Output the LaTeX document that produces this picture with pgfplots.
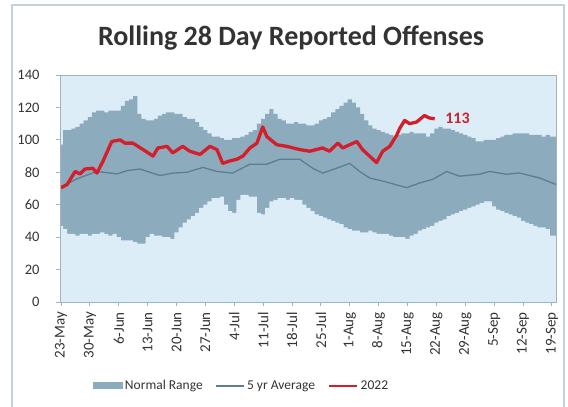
\documentclass[border=0pt]{standalone}
\usepackage{fontspec}
\setmainfont{Carlito}
\usepackage{pgfplots}
\pgfplotsset{compat=1.18}
\usepackage{pgfplotstable}
\definecolor{bgblue}{HTML}{DCEDF8}
\definecolor{band}{HTML}{8CABBD}
\definecolor{avg}{HTML}{5E7E8F}
\definecolor{red22}{HTML}{D21F2B}
\definecolor{framec}{HTML}{9FB3C0}
\definecolor{outerc}{HTML}{C3D2DC}
\definecolor{txt}{HTML}{333333}

\pgfplotstableread{
day lo hi
0 47 97
1 45 106
2 42 106
3 42 107
4 41 108
5 42 110
6 42 112
7 41 114
8 42 117
9 42 118
10 43 118
11 42 117
12 41 118
13 42 118
14 40 118
15 38 121
16 38 124
17 38 125
18 37 127
19 36 116
20 36 113
21 40 112
22 42 112
23 41 113
24 41 115
25 40 116
26 40 117
27 39 117
28 43 116
29 46 116
30 49 114
31 51 113
32 53 113
33 55 111
34 58 108
35 60 106
36 62 104
37 64 102
38 64 102
39 65 101
40 60 100
41 56 100
42 55 101
43 63 101
44 66 102
45 66 103
46 65 105
47 65 106
48 55 110
49 54 113
50 58 116
51 62 119
52 63 116
53 64 113
54 64 112
55 63 110
56 64 110
57 63 111
58 63 110
59 60 110
60 58 109
61 56 109
62 54 110
63 53 112
64 52 113
65 51 114
66 50 117
67 49 119
68 48 121
69 46 123
70 45 125
71 44 123
72 44 120
73 43 116
74 43 112
75 44 109
76 43 107
77 42 106
78 42 105
79 42 104
80 41 103
81 40 102
82 40 103
83 40 104
84 39 104
85 41 105
86 42 104
87 44 104
88 45 104
89 46 102
90 47 104
91 49 107
92 50 108
93 51 107
94 53 107
95 54 106
96 55 105
97 56 104
98 57 103
99 58 102
100 59 101
101 60 99
102 61 99
103 62 100
104 62 100
105 59 100
106 57 101
107 56 102
108 55 103
109 54 103
110 53 104
111 52 104
112 50 104
113 49 104
114 48 103
115 47 103
116 46 103
117 46 102
118 45 103
119 41 102
120 41 102
}\bandtab

\begin{document}
\begin{tikzpicture}
\draw[outerc, line width=1.2pt] (12pt,-415pt) -- (12pt,-5pt) -- (564pt,-5pt) -- (564pt,-415pt);
\node[font=\bfseries\fontsize{28}{28}\selectfont, text=txt, anchor=base] at (291pt,-45pt) {Rolling 28 Day Reported Offenses};
\begin{axis}[
  at={(60pt,-302pt)}, anchor=south west,
  scale only axis, width=496pt, height=227pt,
  xmin=-0.25, xmax=120, ymin=0, ymax=140,
  axis background/.style={fill=bgblue},
  axis on top,
  axis line style={framec, line width=0.9pt},
  xtick={0,7,...,119},
  xticklabels={23-May,30-May,6-Jun,13-Jun,20-Jun,27-Jun,4-Jul,11-Jul,18-Jul,25-Jul,1-Aug,8-Aug,15-Aug,22-Aug,29-Aug,5-Sep,12-Sep,19-Sep},
  ytick={0,20,...,140},
  tick align=outside, major tick length=4pt,
  tick style={framec, line width=0.9pt},
  xtick pos=bottom, ytick pos=left,
  /pgf/number format/assume math mode=true,
  x tick label style={rotate=90, anchor=east, font=\fontsize{15}{15}\selectfont, text=txt, inner xsep=6pt},
  y tick label style={font=\fontsize{14.5}{14.5}\selectfont, text=txt, xshift=-13pt},
  legend columns=3,
  legend style={at={(0.366,-0.37)}, anchor=center, draw=none, fill=none,
    font=\fontsize{13.5}{13.5}\selectfont, text=txt,
    /tikz/every even column/.append style={column sep=11pt}},
  legend cell align=left,
]
\addplot[fill=band, draw=none, const plot mark mid, legend image code/.code={\fill[band] (0pt,-3.5pt) rectangle (30pt,3.5pt);}] table[x=day,y=hi]{\bandtab} \closedcycle;
\addlegendentry{Normal Range}
\addplot[fill=bgblue, draw=none, const plot mark mid, forget plot] table[x=day,y=lo]{\bandtab} \closedcycle;

\addplot[avg, line width=1.3pt, legend image code/.code={\draw[avg, line width=1.3pt] (0pt,0pt) -- (28pt,0pt);}] coordinates {
(0,71) (3.9,76) (8.7,80.5) (13.6,79) (16,81) (19.1,82) (24,78) (27.1,79.5) (30.5,80)
(34.4,83) (37.8,80.5) (41.6,79.5) (45.8,85) (49.9,85) (53,88) (57.9,88) (61,82.5)
(63.4,79.5) (66.8,82.5) (70,85.5) (72.4,80.5) (74.8,76.5) (78,74.6) (83.8,70.5)
(86.9,73.4) (90.1,75.6) (93.5,80.5) (96.6,77.6) (101.5,78.8) (103.9,80.5) (108,78.8)
(111.1,79.6) (116,76.5) (120,72.5)
};
\addlegendentry{5 yr Average}

\addplot[red22, line width=3.3pt, line join=round, legend image code/.code={\draw[red22, line width=2.8pt] (0pt,0pt) -- (28pt,0pt);}] coordinates {
(0,70.5) (1.5,72.5) (3.4,80.5) (4.6,79) (5.8,82) (7.7,82.5) (8.7,79.5) (10.2,87)
(12.3,99) (14.3,100) (15.5,98) (17.4,98) (19.9,94) (22.3,90) (23.5,95) (25.7,96)
(27.1,92) (29.5,96) (31.2,93) (33.7,91) (36.1,96) (37.8,94) (39.2,85.5) (40.9,87)
(42.6,88) (44.1,90) (45.8,95) (47.5,98) (48.9,108) (49.9,102) (52.3,97) (54.7,96)
(57.9,94) (60.3,93) (63.4,95) (65.1,93) (67.1,98) (68.3,95) (71.7,99) (73.1,94)
(74.8,90) (76.5,86) (78,93) (79.7,96) (81.4,103) (82.1,107) (83.3,112) (84.5,110)
(86.2,111) (88.1,115) (89.3,113.5) (90.6,113)
};
\addlegendentry{2022}

\node[anchor=west, text=red22, font=\bfseries\fontsize{16}{16}\selectfont] at (axis cs:92.3,113) {113};
\end{axis}
\pgfresetboundingbox
\path[use as bounding box] (0pt,0pt) rectangle (568pt,-407pt);
\end{tikzpicture}
\end{document}
